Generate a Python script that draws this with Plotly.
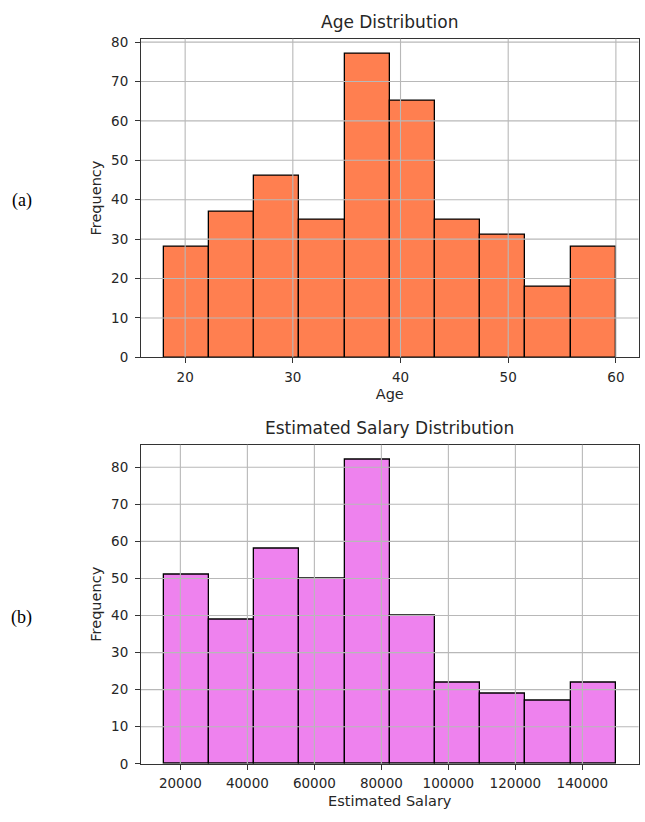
import plotly.graph_objects as go

# ---- data ----
age_edges = [18.0, 22.2, 26.4, 30.6, 34.8, 39.0, 43.2, 47.4, 51.6, 55.8, 60.0]
age_counts = [28, 37, 46, 35, 77, 65, 35, 31, 18, 28]
age_xticks = [20, 30, 40, 50, 60]
age_yticks = [0, 10, 20, 30, 40, 50, 60, 70, 80]

sal_edges = [15000, 28500, 42000, 55500, 69000, 82500, 96000, 109500, 123000, 136500, 150000]
sal_counts = [51, 39, 58, 50, 82, 40, 22, 19, 17, 22]
sal_xticks = [20000, 40000, 60000, 80000, 100000, 120000, 140000]
sal_yticks = [0, 10, 20, 30, 40, 50, 60, 70, 80]

W, H = 645, 822
FONT = "DejaVu Sans"
TXT = "#262626"
GRID = "#b8b8b8"

def px_x(p):
    return p / W

def px_y(p):
    return 1 - p / H

def centers(e):
    return [(e[i] + e[i + 1]) / 2 for i in range(len(e) - 1)]

def widths(e):
    return [e[i + 1] - e[i] for i in range(len(e) - 1)]

def pad_range(e):
    span = e[-1] - e[0]
    return [e[0] - 0.05 * span, e[-1] + 0.05 * span]

fig = go.Figure()
fig.add_trace(go.Bar(x=centers(age_edges), y=age_counts, width=widths(age_edges),
                     marker=dict(color="#FF7F50", line=dict(color="black", width=1.3)),
                     xaxis="x", yaxis="y", showlegend=False))
fig.add_trace(go.Bar(x=centers(sal_edges), y=sal_counts, width=widths(sal_edges),
                     marker=dict(color="#EE82EE", line=dict(color="black", width=1.3)),
                     xaxis="x2", yaxis="y2", showlegend=False))

xdom = [px_x(141), px_x(638.5)]
ydom1 = [px_y(358), px_y(34.3)]
ydom2 = [px_y(771), px_y(446.7)]

axis_common = dict(showline=True, linecolor="#333333", linewidth=1, mirror=True,
                   ticks="outside", ticklen=5, tickwidth=1, tickcolor="#333333",
                   showgrid=False, zeroline=False, tickformat="d",
                   tickfont=dict(family=FONT, size=13.5, color=TXT))
tfont = dict(family=FONT, size=14.5, color=TXT)

fig.update_layout(
    width=W, height=H,
    margin=dict(l=0, r=0, t=0, b=0),
    paper_bgcolor="white", plot_bgcolor="white",
    bargap=0,
    font=dict(family=FONT, color=TXT),
    xaxis=dict(domain=xdom, anchor="y", range=pad_range(age_edges), tickvals=age_xticks,
               ticklabelstandoff=2,
               title=dict(text="Age", font=tfont, standoff=5), **axis_common),
    yaxis=dict(domain=ydom1, anchor="x", range=[0, max(age_counts) * 1.05], tickvals=age_yticks,
               ticklabelstandoff=4,
               title=dict(text="Frequency", font=tfont, standoff=6), **axis_common),
    xaxis2=dict(domain=xdom, anchor="y2", range=pad_range(sal_edges), tickvals=sal_xticks,
                ticklabelstandoff=2,
                title=dict(text="Estimated Salary", font=tfont, standoff=5), **axis_common),
    yaxis2=dict(domain=ydom2, anchor="x2", range=[0, max(sal_counts) * 1.05], tickvals=sal_yticks,
                ticklabelstandoff=4,
                title=dict(text="Frequency", font=tfont, standoff=6), **axis_common),
)

# grid lines drawn above the bars (as matplotlib does)
shapes = []
for xa, ya, xt, yt in [("x", "y", age_xticks, age_yticks), ("x2", "y2", sal_xticks, sal_yticks)]:
    for v in xt:
        shapes.append(dict(type="line", xref=xa, yref=ya + " domain", x0=v, x1=v, y0=0, y1=1,
                           line=dict(color=GRID, width=1.1), layer="above"))
    for v in yt[1:]:
        shapes.append(dict(type="line", xref=xa + " domain", yref=ya, x0=0, x1=1, y0=v, y1=v,
                           line=dict(color=GRID, width=1.1), layer="above"))
fig.update_layout(shapes=shapes)

xc = (xdom[0] + xdom[1]) / 2
ann = dict(xref="paper", yref="paper", showarrow=False, xanchor="center", yanchor="middle")
fig.add_annotation(text="Age Distribution", x=xc, y=px_y(17),
                   font=dict(family=FONT, size=17, color=TXT), **ann)
fig.add_annotation(text="Estimated Salary Distribution", x=xc, y=px_y(430),
                   font=dict(family=FONT, size=17, color=TXT), **ann)
fig.add_annotation(text="(a)", x=px_x(21.5), y=px_y(199),
                   font=dict(family="Liberation Serif", size=18, color="black"), **ann)
fig.add_annotation(text="(b)", x=px_x(21.5), y=px_y(622),
                   font=dict(family="Liberation Serif", size=18, color="black"), **ann)

# remove the default 8px body margin so the figure fills the window exactly
fig.write_html("out.html", config={"displayModeBar": False},
               post_script="document.body.style.margin='0';")
